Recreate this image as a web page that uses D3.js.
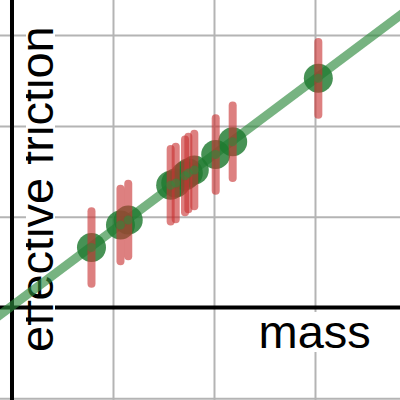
<!DOCTYPE html>
<meta charset="utf-8">
<script src="https://d3js.org/d3.v7.min.js"></script>
<style>
  body { margin: 0; background: #fff; }
</style>
<div id="chart"></div>
<script>

    var massVals     = [0.787, 1.074, 1.151, 1.571, 1.621, 1.713, 1.746, 1.805, 2.017, 2.185, 3.033];
    var frictionVals = [0.661, 0.909, 0.964, 1.346, 1.371, 1.450, 1.481, 1.514, 1.685, 1.826, 2.524];
    var frictionErr  = [0.40, 0.40, 0.40, 0.40, 0.40, 0.40, 0.40, 0.40, 0.40, 0.40, 0.40];

    // fitted line end points
    var fitMass     = [-0.2, 4.0];
    var fitFriction = [-0.15, 3.35];

    var xGrid = [1, 2, 3];
    var yGrid = [-1, 1, 2, 3];

    var width = 400, height = 400;

    var svg = d3.select("#chart")
        .append("svg")
            .attr("width", width)
            .attr("height", height);

    var x = d3.scaleLinear().domain([-0.1188, 3.8416]).range([0, width]);
    var y = d3.scaleLinear().domain([-1.0187, 3.3866]).range([height, 0]);

    // grid
    svg.append("g")
        .attr("transform", "translate(0," + height + ")")
        .call(d3.axisBottom(x).tickValues(xGrid).tickSize(-height).tickFormat(""))
        .call(g => g.select(".domain").remove())
        .selectAll("line")
            .attr("stroke", "#b4b4b4")
            .attr("stroke-width", 2);

    svg.append("g")
        .call(d3.axisLeft(y).tickValues(yGrid).tickSize(-width).tickFormat(""))
        .call(g => g.select(".domain").remove())
        .selectAll("line")
            .attr("stroke", "#b4b4b4")
            .attr("stroke-width", 2);

    // axis lines through zero
    svg.append("line")
        .attr("x1", 0).attr("x2", width)
        .attr("y1", y(0)).attr("y2", y(0))
        .attr("stroke", "#000")
        .attr("stroke-width", 4);

    svg.append("line")
        .attr("x1", x(0)).attr("x2", x(0))
        .attr("y1", 0).attr("y2", height)
        .attr("stroke", "#000")
        .attr("stroke-width", 4);

    // labels on white boxes
    svg.append("rect")
        .attr("x", 258).attr("y", 312)
        .attr("width", 112).attr("height", 40)
        .attr("fill", "#fff");
    svg.append("text")
        .attr("x", 258.5).attr("y", 347.5)
        .attr("font-family", "Liberation Sans, Arial, sans-serif")
        .attr("font-size", 47)
        .attr("fill", "#000")
        .text("mass");

    svg.append("clipPath")
        .attr("id", "ylabClip")
      .append("rect")
        .attr("x", 26).attr("y", 0)
        .attr("width", 40).attr("height", height);

    var ylab = svg.append("g").attr("clip-path", "url(#ylabClip)");
    ylab.append("rect")
        .attr("x", 26).attr("y", 0)
        .attr("width", 29).attr("height", 358)
        .attr("fill", "#fff");
    ylab.append("text")
        .attr("transform", "translate(53,352) rotate(-90)")
        .attr("font-family", "Liberation Sans, Arial, sans-serif")
        .attr("font-size", 47)
        .attr("fill", "#000")
        .text("effective friction");

    // fit line
    svg.append("line")
        .attr("x1", x(fitMass[0])).attr("y1", y(fitFriction[0]))
        .attr("x2", x(fitMass[1])).attr("y2", y(fitFriction[1]))
        .attr("stroke", "#2e8b3e")
        .attr("stroke-opacity", 0.65)
        .attr("stroke-width", 9);

    var data = massVals.map(function (m, i) {
        return {m: m, f: frictionVals[i], e: frictionErr[i]};
    });

    // big markers
    svg.append("g")
        .selectAll("circle")
        .data(data)
        .enter().append("circle")
            .attr("cx", d => x(d.m))
            .attr("cy", d => y(d.f))
            .attr("r", 14.5)
            .attr("fill", "#1f7a2f")
            .attr("fill-opacity", 0.82);

    // error bars
    svg.append("g")
        .selectAll("line")
        .data(data)
        .enter().append("line")
            .attr("x1", d => x(d.m)).attr("x2", d => x(d.m))
            .attr("y1", d => y(d.f - d.e))
            .attr("y2", d => y(d.f + d.e))
            .attr("stroke", "#c83232")
            .attr("stroke-opacity", 0.62)
            .attr("stroke-width", 8)
            .attr("stroke-linecap", "round");

    // small centre dots
    svg.append("g")
        .selectAll("circle")
        .data(data)
        .enter().append("circle")
            .attr("cx", d => x(d.m))
            .attr("cy", d => y(d.f))
            .attr("r", 4.5)
            .attr("fill", "#2e8b3e")
            .attr("fill-opacity", 0.55);

</script>
